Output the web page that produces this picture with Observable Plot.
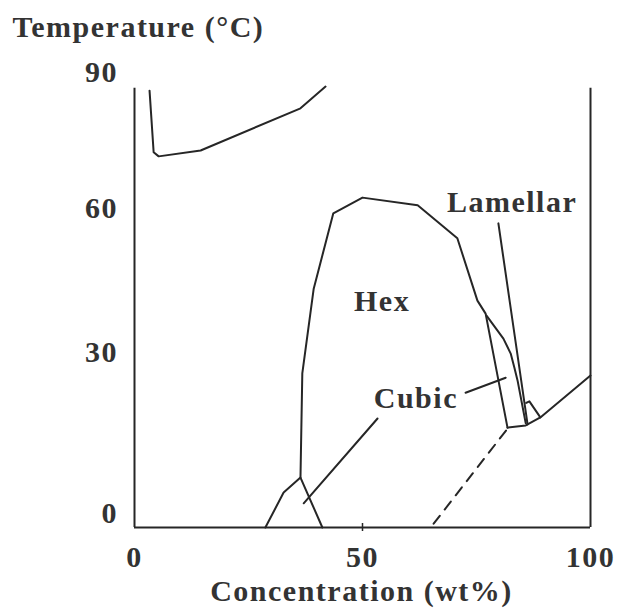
<!DOCTYPE html>
<html>
<head>
<meta charset="utf-8">
<script src="https://cdn.jsdelivr.net/npm/d3@7"></script>
<script src="https://cdn.jsdelivr.net/npm/@observablehq/plot@0.6"></script>
<style>
  html, body { margin: 0; padding: 0; background: #fff; }
  svg text { letter-spacing: 1.5px; }
</style>
</head>
<body>
<div id="chart"></div>
<script>
// ---- tick labels ----
const xTicks = [0, 50, 100];
const yTicks = [0, 30, 60, 90];
const xMidTick = [50];

// ---- frame extent (data units) ----
const frameX = [0, 100];
const frameBottom = -2.6;
const frameTop = 86.5;

// ---- phase boundaries (concentration wt%, temperature °C) ----
const cloudX = [3.3, 4.2, 5.3, 14.5, 36.4, 41.9];
const cloudY = [86.0, 72.4, 71.5, 72.8, 82.1, 86.9];

const hexX = [36.4, 36.8, 39.3, 43.6, 50.0, 62.1, 70.8, 75.2, 77.0, 81.8];
const hexY = [6.7, 26.1, 43.3, 59.0, 62.4, 60.7, 53.8, 40.8, 38.1, 16.0];

const cubicLowX = [28.7, 32.7, 36.4, 41.2];
const cubicLowY = [-2.6, 3.9, 6.7, -2.6];

const cubicHighX = [77.2, 80.9, 82.5, 83.3, 84.0, 85.8];
const cubicHighY = [37.7, 32.9, 29.8, 27.2, 24.8, 16.8];

const solidX = [81.8, 85.8, 89.0, 100];
const solidY = [16.0, 16.4, 17.9, 25.7];

const lamellarEdgeX = [85.9, 86.6, 89.0];
const lamellarEdgeY = [20.6, 20.9, 17.9];

const dashedX = [65.6, 81.6];
const dashedY = [-1.9, 15.6];

// ---- label leader lines ----
const leaderLamellarX = [79.8, 86.2];
const leaderLamellarY = [56.9, 16.6];
const leaderCubicAX = [72.6, 81.4];
const leaderCubicAY = [22.5, 25.3];
const leaderCubicBX = [37.1, 53.3];
const leaderCubicBY = [1.9, 17.7];

// ---- region labels ----
const regionNames = ["Hex", "Cubic", "Lamellar"];
const regionX = [54.3, 61.7, 82.8];
const regionY = [40.7, 21.4, 61.4];

const titleY = "Temperature (°C)";
const titleX = "Concentration (wt%)";

// ---- build tables ----
function seg(name, xs, ys) { return xs.map((x, i) => ({name, x, y: ys[i]})); }
const solidLines = [
  ...seg("cloud", cloudX, cloudY),
  ...seg("hex", hexX, hexY),
  ...seg("cubicLow", cubicLowX, cubicLowY),
  ...seg("cubicHigh", cubicHighX, cubicHighY),
  ...seg("solid", solidX, solidY),
  ...seg("lamEdge", lamellarEdgeX, lamellarEdgeY),
  ...seg("leadLam", leaderLamellarX, leaderLamellarY),
  ...seg("leadCubA", leaderCubicAX, leaderCubicAY),
  ...seg("leadCubB", leaderCubicBX, leaderCubicBY)
];
const dashedLine = seg("dashed", dashedX, dashedY);
const regions = regionNames.map((t, i) => ({t, x: regionX[i], y: regionY[i]}));

// the original axis is drawn unevenly: piecewise-linear temperature axis
const yWarp = d3.scaleLinear().domain([frameBottom, 0, 30, 60, 90]).range([0, 14, 175, 319, 455]);

const ink = "#262626";
const textInk = "#333";

const chart = Plot.plot({
  width: 618,
  height: 608,
  marginLeft: 134,
  marginRight: 28,
  marginTop: 72,
  marginBottom: 81,
  style: {fontFamily: "'Liberation Serif', 'DejaVu Serif', serif", fontWeight: "bold", fontSize: "30px", color: textInk, background: "#fff"},
  x: {domain: [0, 100]},
  y: {type: "linear", transform: (v) => yWarp(v), domain: [0, 455]},
  marks: [
    Plot.ruleX(frameX, {y1: frameBottom, y2: frameTop, stroke: ink, strokeWidth: 2}),
    Plot.ruleY([frameBottom], {x1: 0, x2: 100, stroke: ink, strokeWidth: 2}),
    Plot.ruleX(xMidTick, {y1: yWarp.invert(-4), y2: yWarp.invert(4), stroke: ink, strokeWidth: 1.5}),
    Plot.axisX(xTicks, {tickSize: 0, tickPadding: 18, fontSize: 30, label: null}),
    Plot.axisY(yTicks, {tickSize: 0, tickPadding: 16.5, fontSize: 30, label: null}),
    Plot.line(solidLines, {x: "x", y: "y", z: "name", stroke: ink, strokeWidth: 2}),
    Plot.line(dashedLine, {x: "x", y: "y", stroke: ink, strokeWidth: 2, strokeDasharray: "10,8"}),
    Plot.text(regions, {x: "x", y: "y", text: "t", fontSize: 30, fill: textInk}),
    Plot.text([titleY], {frameAnchor: "top-left", lineAnchor: "middle", dx: -122, dy: -45, textAnchor: "start", fontSize: 30, fill: textInk}),
    Plot.text([titleX], {frameAnchor: "bottom", lineAnchor: "middle", dx: -1, dy: 64, fontSize: 30, fill: textInk})
  ]
});
document.getElementById("chart").appendChild(chart);
</script>
</body>
</html>
